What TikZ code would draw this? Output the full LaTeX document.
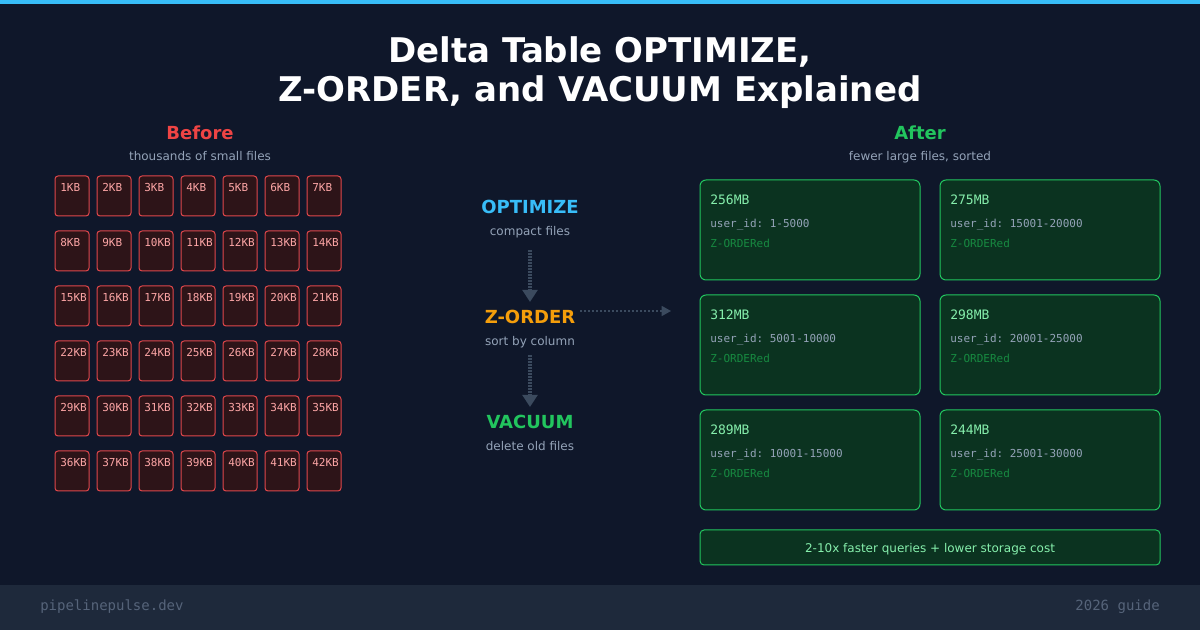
\documentclass[tikz,border=0pt]{standalone}
\usepackage{fontspec}
\setmainfont{DejaVu Sans}
\setmonofont{DejaVu Sans Mono}
\usetikzlibrary{arrows.meta,positioning}
\definecolor{bgnavy}{HTML}{0F172A}
\definecolor{footbg}{HTML}{1E293B}
\definecolor{skyblue}{HTML}{38BDF8}
\definecolor{amber}{HTML}{F59E0B}
\definecolor{grn}{HTML}{22C55E}
\definecolor{redd}{HTML}{EF4444}
\definecolor{slatetxt}{HTML}{94A3B8}
\definecolor{foottxt}{HTML}{56647A}
\definecolor{smallfill}{HTML}{2D1418}
\definecolor{smallline}{HTML}{E0474B}
\definecolor{kbpink}{HTML}{FCA5A5}
\definecolor{bigfill}{HTML}{0B3320}
\definecolor{mbgreen}{HTML}{86EFAC}
\definecolor{zgreen}{HTML}{178A41}
\definecolor{arrowgray}{HTML}{3B4A5E}

\begin{document}
\begin{tikzpicture}[x=0.75pt,y=-0.75pt,
	txt/.style={inner sep=0pt, anchor=base},
	ttl/.style={txt, text=white, font=\fontsize{25.5}{30}\selectfont\bfseries},
	head/.style={txt, font=\fontsize{13.5}{16}\selectfont\bfseries},
	sub/.style={txt, text=slatetxt, font=\fontsize{9}{11}\selectfont},
	filebox/.style={draw=smallline, fill=smallfill, line width=0.75pt,
		rounded corners=2.25pt, minimum width=25.5pt, minimum height=30pt, inner sep=0pt},
	kbtext/.style={inner sep=0pt, anchor=base west, text=kbpink, font=\ttfamily\fontsize{8.25}{10}\selectfont},
	bigbox/.style={draw=grn, fill=bigfill, line width=0.75pt,
		rounded corners=4.5pt, minimum width=165pt, minimum height=75pt, inner sep=0pt},
	mono/.style={inner sep=0pt, anchor=base west, font=\ttfamily\fontsize{8.25}{10}\selectfont},
	flow/.style={draw=arrowgray, line width=3.5pt, dash pattern=on 1.5pt off 0.75pt,
		-{Triangle[width=11pt,length=9pt]}},
	link/.style={draw=arrowgray, line width=1.1pt, dash pattern=on 1.5pt off 1.5pt,
		-{Triangle[width=7.5pt,length=7pt]}}]
	% background, top bar, footer
	\fill[bgnavy] (0,0) rectangle (1200,630);
	\fill[skyblue] (0,0) rectangle (1200,4);
	\fill[footbg] (0,585) rectangle (1200,630);
	\useasboundingbox (0,0) rectangle (1200,630);
	% title
	\node[ttl] (title1) at (600,63) {Delta Table OPTIMIZE,};
	\node[ttl] (title2) at (600,102) {Z-ORDER, and VACUUM Explained};
	% before
	\node[head, text=redd] (before) at (200,140) {Before};
	\node[sub] (beforesub) at (200,161) {thousands of small files};
	\foreach \r in {0,...,5}
	\foreach \c in {0,...,6}{
		\pgfmathtruncatemacro\n{\r*7+\c+1}
		\node[filebox] (f\n) at (72+42*\c,196+55*\r) {};
		\node[kbtext] (k\n) at (60+42*\c,192+55*\r) {\n KB};
	}
	% steps
	\node[head, text=skyblue] (optimize) at (530,214) {OPTIMIZE};
	\node[sub] (optsub) at (530,236) {compact files};
	\node[head, text=amber] (zorder) at (530,324) {Z-ORDER};
	\node[sub] (zsub) at (530,346) {sort by column};
	\node[head, text=grn] (vacuum) at (530,429) {VACUUM};
	\node[sub] (vacsub) at (530,451) {delete old files};
	\coordinate (a1) at (530,250);
	\coordinate (a2) at (530,302);
	\coordinate (b1) at (530,355);
	\coordinate (b2) at (530,407);
	\coordinate (c1) at (580,311);
	\coordinate (c2) at (671,311);
	\draw[flow] (a1) -- (a2);
	\draw[flow] (b1) -- (b2);
	\draw[link] (c1) -- (c2);
	% after
	\node[head, text=grn] (after) at (920,140) {After};
	\node[sub] (aftersub) at (920,161) {fewer large files, sorted};
	\foreach \c/\r/\s/\u [count=\i] in {0/0/256/1-5000, 1/0/275/15001-20000,
		0/1/312/5001-10000, 1/1/298/20001-25000, 0/2/289/10001-15000, 1/2/244/25001-30000}{
		\node[bigbox] (g\i) at (810+240*\c,230+115*\r) {};
		\node[mono, text=mbgreen, font=\ttfamily\fontsize{9.75}{12}\selectfont] (s\i) at (710+240*\c,205+115*\r) {\s MB};
		\node[mono, text=slatetxt] (u\i) at (710+240*\c,228+115*\r) {user\_id: \u};
		\node[mono, text=zgreen] (z\i) at (710+240*\c,248+115*\r) {Z-ORDERed};
	}
	\node[draw=grn, fill=bigfill, line width=0.75pt, rounded corners=3pt,
		minimum width=345pt, minimum height=26.25pt, inner sep=0pt] (gain) at (930,547.5) {};
	\node[txt, text=mbgreen, font=\fontsize{9}{11}\selectfont] (gaintxt) at (930,553) {2-10x faster queries + lower storage cost};
	% footer
	\node[inner sep=0pt, anchor=base west, text=foottxt, font=\ttfamily\fontsize{10.5}{12}\selectfont] (site) at (40,610) {pipelinepulse.dev};
	\node[inner sep=0pt, anchor=base east, text=foottxt, font=\ttfamily\fontsize{10.5}{12}\selectfont] (guide) at (1160,610) {2026 guide};
\end{tikzpicture}
\end{document}
